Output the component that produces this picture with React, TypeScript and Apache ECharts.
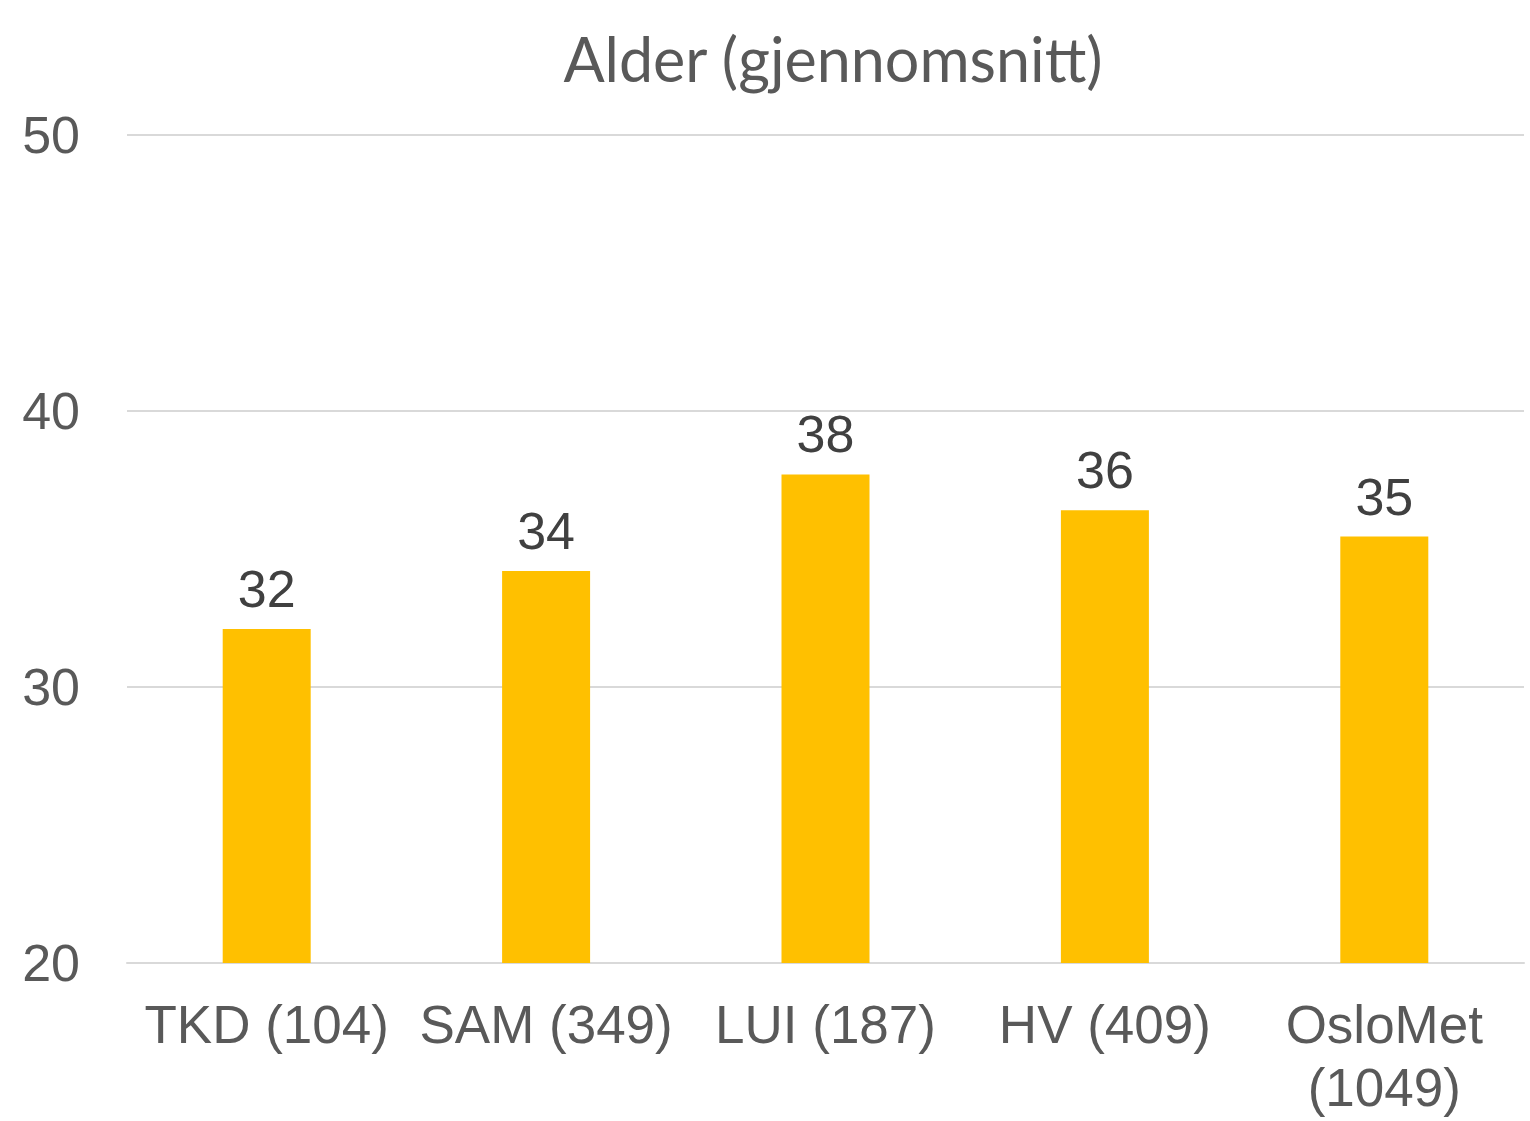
import React, { useEffect, useRef } from "react";
import * as echarts from "echarts";

const categories = ["TKD (104)", "SAM (349)", "LUI (187)", "HV (409)", "OsloMet\n(1049)"];
const values = [32.1, 34.2, 37.7, 36.4, 35.45];
const yTicks = [20, 30, 40, 50];
const titleText = "Alder (gjennomsnitt)";

export default function App() {
  const ref = useRef<HTMLDivElement>(null);
  useEffect(() => {
    document.body.style.margin = "0";
    const chart = echarts.init(ref.current!, null, { renderer: "svg" });
    chart.setOption({
      animation: false,
      backgroundColor: "#ffffff",
      title: {
        text: titleText,
        left: 828,
        textAlign: "center",
        top: 23,
        textStyle: { fontFamily: "Lato", fontSize: 61, fontWeight: "normal", color: "#595959" },
      },
      grid: { left: 127, right: 6, top: 135, bottom: 158, containLabel: false },
      xAxis: {
        type: "category",
        data: categories,
        axisLine: { show: true, lineStyle: { color: "#d9d9d9", width: 2 } },
        axisTick: { show: false },
        axisLabel: {
          interval: 0,
          margin: 30,
          fontFamily: "Liberation Sans, Arial",
          fontSize: 53,
          color: "#595959",
          lineHeight: 63,
        },
      },
      yAxis: {
        type: "value",
        min: yTicks[0],
        max: yTicks[yTicks.length - 1],
        interval: 10,
        axisLine: { show: false },
        axisTick: { show: false },
        splitLine: { lineStyle: { color: "#d9d9d9", width: 2 } },
        axisLabel: {
          margin: 47,
          fontFamily: "Liberation Sans, Arial",
          fontSize: 52,
          color: "#595959",
        },
      },
      series: [
        {
          type: "bar",
          data: values,
          barWidth: 88,
          itemStyle: { color: "#FFC000" },
          label: {
            show: true,
            position: "top",
            distance: 14,
            fontFamily: "Liberation Sans, Arial",
            fontSize: 52,
            color: "#404040",
            formatter: (p: any) => String(Math.round(p.value)),
          },
        },
      ],
    });
    return () => chart.dispose();
  }, []);
  return <div ref={ref} style={{ width: 1530, height: 1121 }} />;
}
